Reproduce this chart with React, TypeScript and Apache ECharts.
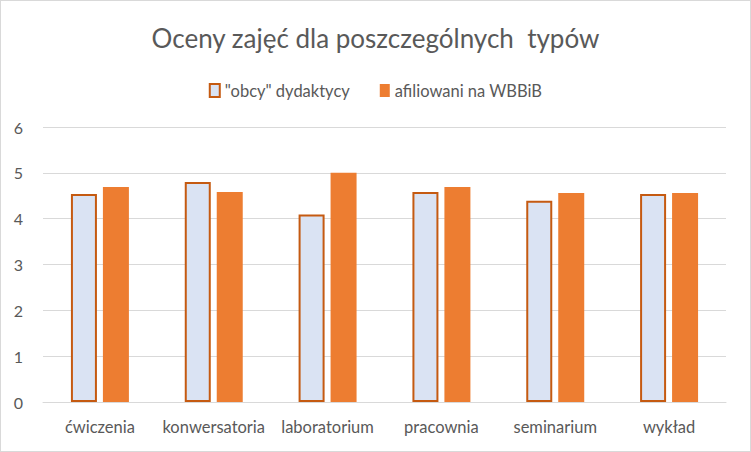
import React, { useEffect, useRef } from "react";
import * as echarts from "echarts";

const categories = ["ćwiczenia", "konwersatoria", "laboratorium", "pracownia", "seminarium", "wykład"];
const obcy = [4.54, 4.8, 4.09, 4.58, 4.39, 4.54];
const afiliowani = [4.69, 4.58, 5.0, 4.69, 4.56, 4.56];
const seriesNames = ["\"obcy\" dydaktycy", "afiliowani na WBBiB"];
const titleText = "Oceny zajęć dla poszczególnych  typów";

export default function App() {
  const ref = useRef<HTMLDivElement>(null);
  useEffect(() => {
    document.body.style.margin = "0";
    const chart = echarts.init(ref.current!, null, { renderer: "svg" });
    const font = "Lato, 'Open Sans', sans-serif";
    chart.setOption({
      animation: false,
      backgroundColor: "#ffffff",
      textStyle: { fontFamily: font },
      title: {
        text: titleText,
        left: "center",
        top: 19,
        textStyle: { fontFamily: font, fontSize: 26, fontWeight: "normal", color: "#595959" },
      },
      legend: {
        top: 76,
        left: "center",
        itemWidth: 10,
        itemHeight: 13,
        itemGap: 30,
        textStyle: { fontFamily: font, fontSize: 16.5, color: "#595959" },
        data: [
          { name: seriesNames[0], icon: "rect", itemStyle: { color: "#dae3f3", borderColor: "#c55a11", borderWidth: 2 } },
          { name: seriesNames[1], icon: "rect" },
        ],
      },
      grid: { left: 42, right: 24, top: 126, bottom: 49 },
      xAxis: {
        type: "category",
        data: categories,
        axisTick: { show: false },
        axisLine: { lineStyle: { color: "#d9d9d9", width: 1 } },
        axisLabel: { fontFamily: font, fontSize: 16.5, color: "#595959", margin: 16, interval: 0 },
      },
      yAxis: {
        type: "value",
        min: 0,
        max: 6,
        interval: 1,
        splitLine: { lineStyle: { color: "#d9d9d9", width: 1 } },
        axisLabel: { fontFamily: font, fontSize: 16, color: "#595959", margin: 20 },
      },
      series: [
        {
          name: seriesNames[0],
          type: "bar",
          data: obcy,
          barWidth: 26,
          barGap: "23%",
          itemStyle: { color: "#dae3f3", borderColor: "#c55a11", borderWidth: 2 },
        },
        {
          name: seriesNames[1],
          type: "bar",
          data: afiliowani,
          barWidth: 26,
          itemStyle: { color: "#ed7d31" },
        },
      ],
    });
    return () => chart.dispose();
  }, []);
  return (
    <div
      ref={ref}
      style={{ position: "absolute", left: 0, top: 0, width: 751, height: 452, boxSizing: "border-box", border: "1px solid #d9d9d9" }}
    />
  );
}
